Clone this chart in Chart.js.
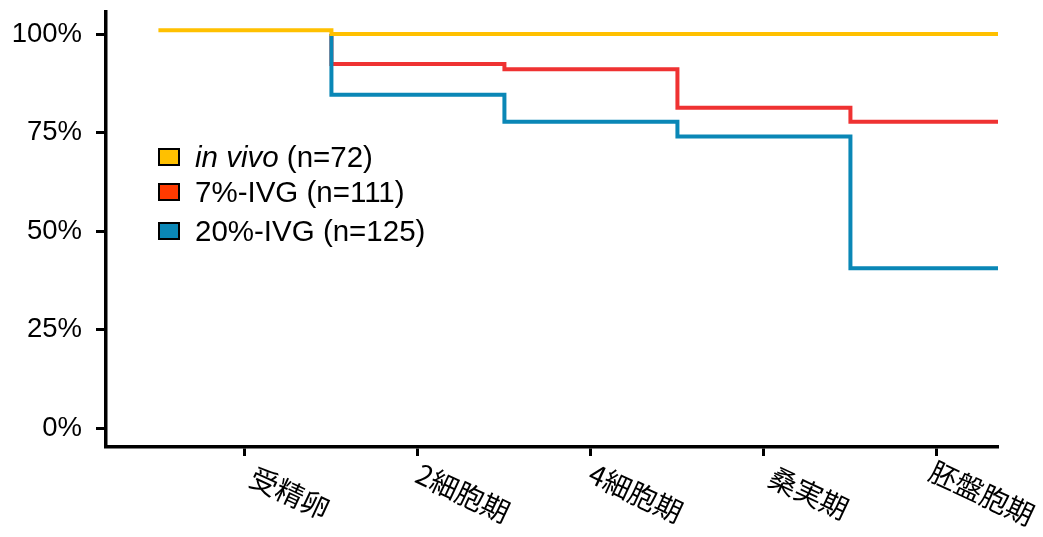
<!DOCTYPE html>
<html>
<head>
<meta charset="utf-8">
<script src="https://cdn.jsdelivr.net/npm/chart.js@4.4.1/dist/chart.umd.min.js"></script>
<style>
  html, body { margin: 0; padding: 0; background: #fff; }
  #wrap { position: relative; width: 1043px; height: 537px; }
  canvas { display: block; }
  .legend { position: absolute; left: 158px; top: 0; font-family: "Liberation Sans", Arial, sans-serif; font-size: 29.5px; color: #000; }
  .row { position: absolute; left: 0; height: 0; white-space: nowrap; }
  .sw { position: absolute; left: 0; top: -9px; width: 22px; height: 18px; box-sizing: border-box; border: 2px solid #000; }
  .lb { position: absolute; left: 37px; top: 0; transform: translateY(-50%); line-height: 1; }
</style>
</head>
<body>
<div id="wrap">
  <canvas id="c" width="1043" height="537"></canvas>
  <div class="legend" id="legend"></div>
</div>
<script>
// Developmental stages along the x axis
const categories = ['受精卵', '2細胞期', '4細胞期', '桑実期', '胚盤胞期'];
const yTicks = [0, 25, 50, 75, 100];

// Proportion of embryos reaching each stage (%)
const inVivo = [101, 100, 100, 100, 100];
const ivg7   = [100, 92.4, 91.1, 81.3, 77.8];
const ivg20  = [100, 84.6, 77.8, 74.0, 40.6];

const seriesNames  = ['in vivo', '7%-IVG', '20%-IVG'];
const seriesItalic = [true, false, false];
const seriesN      = [72, 111, 125];
const lineColors   = ['#FFC000', '#EF3232', '#0A87B6'];
const swatchColors = ['#FFC000', '#FF3A00', '#0A87B6'];
const legendRowY   = [157, 192, 230.5];

// Turn per-stage values into step-function points; each value holds
// from half a stage before its tick to half a stage after.
function stepPoints(values, fromStart) {
  const last = values.length - 1;
  const pts = [{ x: fromStart ? -0.5 : 0.5, y: values[0] }];
  for (let i = 1; i <= last; i++) pts.push({ x: i - 0.5, y: values[i] });
  pts.push({ x: last + 0.5, y: values[last] });
  return pts;
}

function lineSet(label, values, fromStart, color, order) {
  return {
    label,
    data: stepPoints(values, fromStart),
    borderColor: color,
    backgroundColor: color,
    borderWidth: 4,
    stepped: 'before',
    pointRadius: 0,
    fill: false,
    order
  };
}

const tickFont = { family: '"Liberation Sans", Arial, sans-serif', size: 27.5 };

const stageLabels = {
  id: 'stageLabels',
  afterDraw(chart) {
    const xs = chart.scales.x;
    const ctx = chart.ctx;
    ctx.save();
    ctx.font = '28px "Noto Sans CJK JP"';
    ctx.fillStyle = '#000';
    ctx.textAlign = 'center';
    ctx.textBaseline = 'middle';
    categories.forEach((name, i) => {
      const px = xs.getPixelForValue(i);
      ctx.save();
      ctx.translate(px + 45, xs.top + 46);
      ctx.rotate(25 * Math.PI / 180);
      ctx.fillText(name, 0, 0);
      ctx.restore();
    });
    ctx.restore();
  }
};

new Chart(document.getElementById('c'), {
  type: 'line',
  data: {
    datasets: [
      lineSet(seriesNames[0], inVivo, true, lineColors[0], 0),
      lineSet(seriesNames[1], ivg7, false, lineColors[1], 2),
      lineSet(seriesNames[2], ivg20, false, lineColors[2], 1)
    ]
  },
  options: {
    responsive: false,
    animation: false,
    layout: { padding: { top: 12, right: 45, left: 0, bottom: 0 } },
    plugins: { legend: { display: false }, tooltip: { enabled: false } },
    scales: {
      x: {
        type: 'linear',
        min: -0.803,
        max: 4.353,
        afterBuildTicks: s => { s.ticks = categories.map((_, i) => ({ value: i })); },
        afterFit: s => { s.height = 90; s.paddingLeft = 0; s.paddingRight = 0; },
        ticks: { display: false },
        grid: { drawOnChartArea: false, tickLength: 9, tickWidth: 3, tickColor: '#000' },
        border: { color: '#000', width: 3.5 }
      },
      y: {
        min: -4.7,
        max: 105.6,
        afterBuildTicks: s => { s.ticks = yTicks.map(v => ({ value: v })); },
        afterFit: s => { s.width = 106; s.paddingTop = 0; s.paddingBottom = 0; },
        ticks: { callback: v => v + '%', font: tickFont, color: '#000', padding: 14 },
        grid: { drawOnChartArea: false, tickLength: 10, tickWidth: 3, tickColor: '#000' },
        border: { color: '#000', width: 3.5 }
      }
    }
  },
  plugins: [stageLabels]
});

// Legend with coloured swatches
const legend = document.getElementById('legend');
seriesNames.forEach((name, i) => {
  const row = document.createElement('div');
  row.className = 'row';
  row.style.top = legendRowY[i] + 'px';
  const sw = document.createElement('div');
  sw.className = 'sw';
  sw.style.background = swatchColors[i];
  const lb = document.createElement('div');
  lb.className = 'lb';
  const nm = document.createElement(seriesItalic[i] ? 'i' : 'span');
  nm.textContent = name;
  lb.appendChild(nm);
  lb.appendChild(document.createTextNode(' (n=' + seriesN[i] + ')'));
  row.appendChild(sw);
  row.appendChild(lb);
  legend.appendChild(row);
});
</script>
</body>
</html>
